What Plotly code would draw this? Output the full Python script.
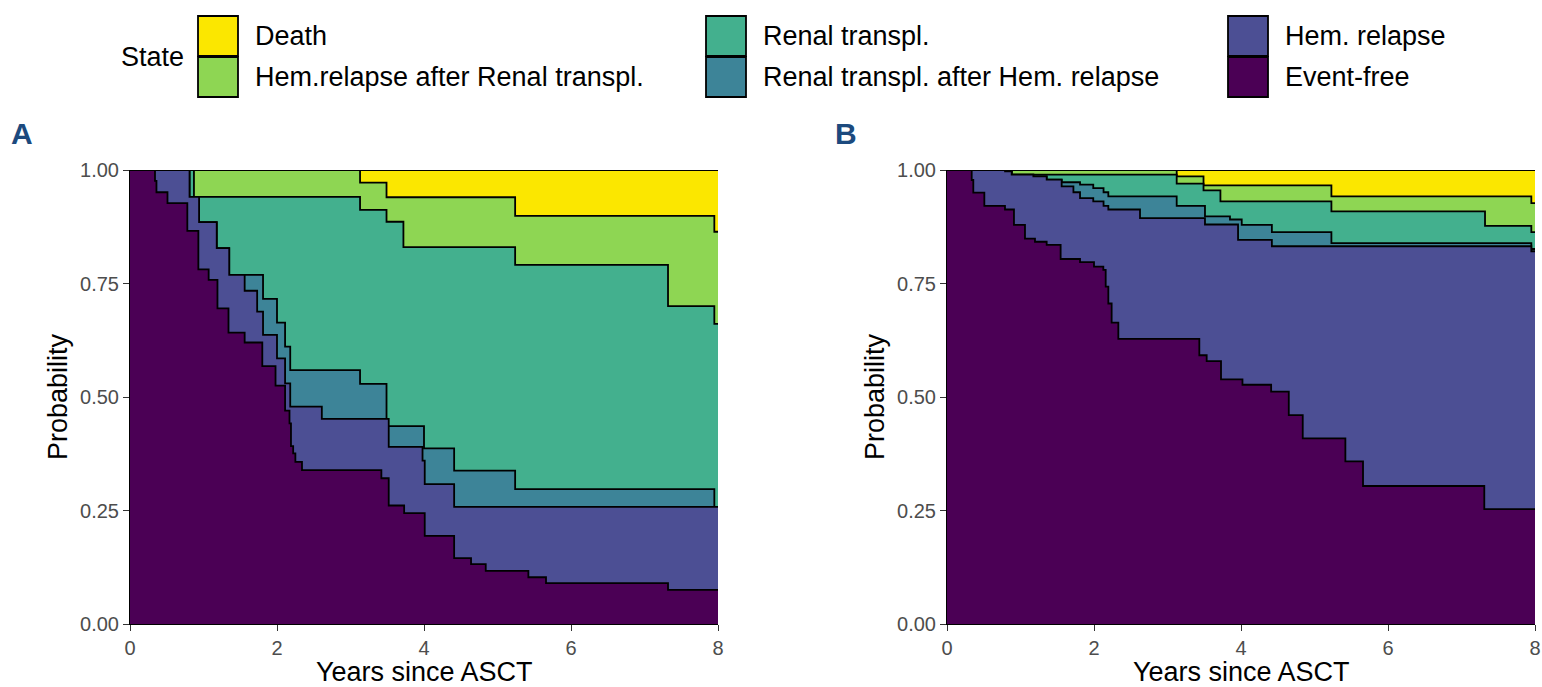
import plotly.graph_objects as go

W, H = 1542, 687

STATES = ["Death", "Hem.relapse after Renal transpl.", "Renal transpl.",
          "Renal transpl. after Hem. relapse", "Hem. relapse", "Event-free"]
COLORS = ["#fbe700", "#8ed653", "#43b08e", "#3d8498", "#4c4f94", "#4b0055"]

# ---- Panel A: upper boundary of each stacked state (cumulative probability) ----
A_T_DEATH = [0]
A_P_DEATH = [1.0]
A_T_HRR = [0, 3.13, 3.49, 5.24, 7.95]
A_P_HRR = [1.0, 0.972, 0.940, 0.899, 0.864]
A_T_RT = [0, 0.87, 3.13, 3.49, 3.72, 5.24, 7.32, 7.95]
A_P_RT = [1.0, 0.941, 0.912, 0.886, 0.830, 0.791, 0.700, 0.661]
A_T_RAH = [0, 0.81, 0.94, 1.18, 1.35, 1.81, 2.00, 2.11, 2.18, 3.13, 3.49, 4.00, 4.41, 5.24, 7.95]
A_P_RAH = [1.0, 0.941, 0.885, 0.828, 0.769, 0.716, 0.664, 0.611, 0.559, 0.529, 0.436, 0.387, 0.338, 0.297, 0.258]
A_T_HR = [0, 0.81, 0.94, 1.18, 1.35, 1.56, 1.73, 1.81, 2.00, 2.11, 2.18, 2.61, 3.52, 3.98, 4.01, 4.41]
A_P_HR = [1.0, 0.941, 0.885, 0.828, 0.769, 0.734, 0.688, 0.637, 0.585, 0.530, 0.479, 0.452, 0.390, 0.360, 0.308, 0.258]
A_T_EF = [0, 0.34, 0.36, 0.51, 0.78, 0.93, 1.07, 1.19, 1.34, 1.56, 1.80, 1.98, 2.11, 2.17, 2.19,
          2.22, 2.25, 2.34, 3.42, 3.52, 3.73, 4.01, 4.41, 4.64, 4.84, 5.42, 5.66, 7.32]
A_P_EF = [1.0, 0.976, 0.951, 0.927, 0.866, 0.781, 0.758, 0.695, 0.642, 0.620, 0.568, 0.525, 0.470, 0.442, 0.392,
          0.376, 0.357, 0.339, 0.321, 0.261, 0.244, 0.194, 0.145, 0.132, 0.117, 0.103, 0.090, 0.075]

# ---- Panel B ----
B_T_DEATH = [0]
B_P_DEATH = [1.0]
B_T_HRR = [0, 3.125, 3.49, 5.23, 7.95]
B_P_HRR = [1.0, 0.986, 0.966, 0.942, 0.927]
B_T_RT = [0, 0.88, 3.125, 3.49, 3.72, 5.23, 7.32, 7.95]
B_P_RT = [1.0, 0.990, 0.970, 0.955, 0.931, 0.909, 0.877, 0.863]
B_T_RAH = [0, 0.79, 0.88, 1.175, 1.356, 1.56, 1.81, 1.99, 2.13, 2.195, 3.125, 3.51, 3.85, 4.01, 4.42, 5.23, 7.95]
B_P_RAH = [1.0, 0.997, 0.990, 0.986, 0.979, 0.973, 0.968, 0.960, 0.951, 0.942, 0.921, 0.898, 0.891, 0.879, 0.863, 0.839, 0.826]
B_T_HR = [0, 0.79, 0.88, 1.175, 1.356, 1.56, 1.72, 1.81, 1.99, 2.13, 2.195, 2.626, 3.51, 3.96, 4.42, 7.95]
B_P_HR = [1.0, 0.997, 0.990, 0.986, 0.979, 0.964, 0.951, 0.938, 0.931, 0.921, 0.913, 0.894, 0.880, 0.846, 0.832, 0.821]
B_T_EF = [0, 0.336, 0.358, 0.508, 0.789, 0.911, 1.061, 1.197, 1.356, 1.546, 1.81, 2.0, 2.127, 2.159, 2.195,
          2.24, 2.331, 3.433, 3.533, 3.728, 4.02, 4.41, 4.65, 4.84, 5.42, 5.66, 7.31]
B_P_EF = [1.0, 0.978, 0.950, 0.921, 0.913, 0.879, 0.849, 0.842, 0.835, 0.804, 0.797, 0.787, 0.780, 0.743, 0.706,
          0.664, 0.628, 0.592, 0.579, 0.539, 0.527, 0.512, 0.460, 0.409, 0.358, 0.304, 0.253]

X_TICKS = [0, 2, 4, 6, 8]
Y_TICKS = [0, 0.25, 0.5, 0.75, 1.0]
T_END = 8

PANEL_A = [(A_T_DEATH, A_P_DEATH), (A_T_HRR, A_P_HRR), (A_T_RT, A_P_RT),
           (A_T_RAH, A_P_RAH), (A_T_HR, A_P_HR), (A_T_EF, A_P_EF)]
PANEL_B = [(B_T_DEATH, B_P_DEATH), (B_T_HRR, B_P_HRR), (B_T_RT, B_P_RT),
           (B_T_RAH, B_P_RAH), (B_T_HR, B_P_HR), (B_T_EF, B_P_EF)]

FONT = "Liberation Sans, Arial, sans-serif"


def px(x):
    return x / W


def py(y):
    return 1 - y / H


fig = go.Figure()

for panel, (xa, ya) in [(PANEL_A, ("x", "y")), (PANEL_B, ("x2", "y2"))]:
    for i, (t, p) in enumerate(panel):
        tt = list(t) + [T_END]
        pp = list(p) + [p[-1]]
        fig.add_trace(go.Scatter(
            x=tt, y=pp, xaxis=xa, yaxis=ya, mode="lines",
            line=dict(shape="hv", color="black", width=1.8),
            fill="tozeroy", fillcolor=COLORS[i], name=STATES[i],
            showlegend=False, hoverinfo="skip"))

axis_common = dict(showgrid=False, zeroline=False, showline=True, linecolor="black",
                   linewidth=1, ticks="outside", ticklen=6, tickcolor="#333333", tickwidth=1,
                   automargin=False,
                   tickfont=dict(family=FONT, size=20, color="#4d4d4d"))

fig.update_layout(
    width=W, height=H, margin=dict(l=0, r=0, t=0, b=0, autoexpand=False),
    paper_bgcolor="white", plot_bgcolor="white", showlegend=False,
    xaxis=dict(domain=[px(130), px(718)], range=[0, 8], tickvals=X_TICKS, anchor="y", **axis_common),
    yaxis=dict(domain=[py(624), py(170)], range=[0, 1], tickvals=Y_TICKS, tickformat=".2f",
               anchor="x", **axis_common),
    xaxis2=dict(domain=[px(947), px(1535)], range=[0, 8], tickvals=X_TICKS, anchor="y2", **axis_common),
    yaxis2=dict(domain=[py(624), py(170)], range=[0, 1], tickvals=Y_TICKS, tickformat=".2f",
                anchor="x2", **axis_common),
)

ann = []
shapes = []
# axis titles
for cx in (424, 1241):
    ann.append(dict(x=px(cx), y=py(672), xref="paper", yref="paper", text="Years since ASCT",
                    showarrow=False, xanchor="center", yanchor="middle",
                    font=dict(family=FONT, size=27, color="black")))
for cx in (58, 875):
    ann.append(dict(x=px(cx), y=py(397), xref="paper", yref="paper", text="Probability",
                    showarrow=False, xanchor="center", yanchor="middle", textangle=-90,
                    font=dict(family=FONT, size=27, color="black")))
# panel letters
for lab, cx in (("A", 22), ("B", 846)):
    ann.append(dict(x=px(cx), y=py(134), xref="paper", yref="paper", text="<b>%s</b>" % lab,
                    showarrow=False, xanchor="center", yanchor="middle",
                    font=dict(family=FONT, size=30, color="#1c4a7e")))

# legend
ann.append(dict(x=px(119), y=py(57), xref="paper", yref="paper", text="State", showarrow=False,
                xanchor="left", yanchor="middle", font=dict(family=FONT, size=27, color="black")))
legend_layout = [(0, 198, 16), (1, 198, 57), (2, 706, 16), (3, 706, 57), (4, 1228, 16), (5, 1228, 57)]
for idx, bx, by in legend_layout:
    shapes.append(dict(type="rect", xref="paper", yref="paper",
                       x0=px(bx), x1=px(bx + 40), y0=py(by + 40), y1=py(by),
                       fillcolor=COLORS[idx], line=dict(color="black", width=1.8)))
    ann.append(dict(x=px(bx + 55), y=py(by + 20), xref="paper", yref="paper", text=STATES[idx],
                    showarrow=False, xanchor="left", yanchor="middle",
                    font=dict(family=FONT, size=27, color="black")))

fig.update_layout(annotations=ann, shapes=shapes)
fig.write_html("out.html")
